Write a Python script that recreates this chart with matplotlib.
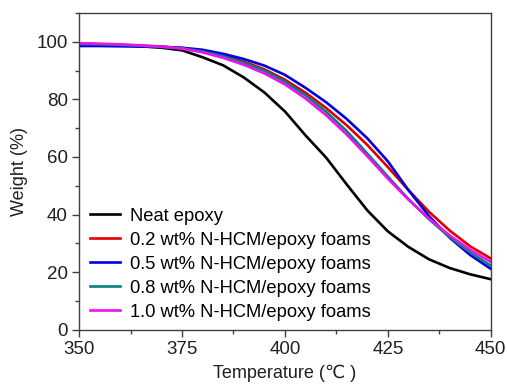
import matplotlib
matplotlib.use("Agg")
import matplotlib.pyplot as plt
from matplotlib.ticker import MultipleLocator

plt.rcParams['font.family'] = ['Liberation Sans', 'DejaVu Sans']

temp = [350, 355, 360, 365, 370, 375, 380, 385, 390, 395, 400,
        405, 410, 415, 420, 425, 430, 435, 440, 445, 450]

neat = [99.3, 99.1, 98.8, 98.4, 97.9, 97.0, 94.6, 91.8, 87.6, 82.4, 75.8,
        67.5, 59.8, 50.5, 41.5, 34.2, 28.8, 24.5, 21.5, 19.3, 17.6]
wt02 = [99.2, 99.1, 98.9, 98.6, 98.3, 97.8, 96.8, 95.2, 93.1, 90.4, 86.8,
        82.3, 77.0, 71.0, 64.2, 56.5, 48.5, 41.0, 34.5, 29.0, 24.8]
wt05 = [98.5, 98.5, 98.4, 98.3, 98.2, 97.9, 97.2, 95.8, 94.0, 91.7, 88.5,
        84.0, 79.0, 73.2, 66.5, 58.5, 48.5, 39.5, 32.0, 26.0, 21.2]
wt08 = [99.2, 99.1, 98.9, 98.6, 98.2, 97.7, 96.6, 94.9, 92.7, 89.9, 86.1,
        81.4, 75.7, 69.0, 61.2, 53.2, 45.4, 38.4, 32.2, 26.9, 22.3]
wt10 = [99.5, 99.3, 99.1, 98.7, 98.3, 97.6, 96.3, 94.4, 92.0, 89.0, 85.2,
        80.3, 74.5, 67.8, 60.3, 52.5, 45.2, 38.6, 32.8, 27.8, 23.6]

labels = ["Neat epoxy",
          "0.2 wt% N-HCM/epoxy foams",
          "0.5 wt% N-HCM/epoxy foams",
          "0.8 wt% N-HCM/epoxy foams",
          "1.0 wt% N-HCM/epoxy foams"]
colors = ["#000000", "#e00000", "#0000e0", "#008080", "#ee10ee"]

fig = plt.figure(figsize=(5.07, 3.9), dpi=100)
ax = fig.add_axes([0.156, 0.154, 0.812, 0.813])

for series, lab, c in zip([neat, wt02, wt05, wt08, wt10], labels, colors):
    ax.plot(temp, series, color=c, lw=1.9, label=lab, solid_joinstyle='round')

ax.set_xlim(350, 450)
ax.set_ylim(0, 110)
ax.xaxis.set_major_locator(MultipleLocator(25))
ax.xaxis.set_minor_locator(MultipleLocator(12.5))
ax.yaxis.set_major_locator(MultipleLocator(20))
ax.yaxis.set_minor_locator(MultipleLocator(10))
ax.set_yticks([0, 20, 40, 60, 80, 100])

spine_col = "#404040"
for s in ax.spines.values():
    s.set_color(spine_col)
    s.set_linewidth(1.0)
ax.tick_params(which='both', direction='out', top=False, right=False,
               color=spine_col, labelsize=13.5, labelcolor='#202020')
ax.tick_params(which='major', length=5, width=1.0, pad=3)
ax.tick_params(which='minor', length=3, width=1.0)

ax.set_xlabel("Temperature (℃ )", fontsize=13, color='#202020', labelpad=5)
ax.set_ylabel("Weight (%)", fontsize=13, color='#202020', labelpad=6)

ax.legend(loc='upper left', bbox_to_anchor=(0.027, 0.385), frameon=False,
          fontsize=13.2, handlelength=1.6, handletextpad=0.55,
          labelspacing=0.38, borderpad=0, borderaxespad=0)

fig.savefig("out.png", dpi=100)
